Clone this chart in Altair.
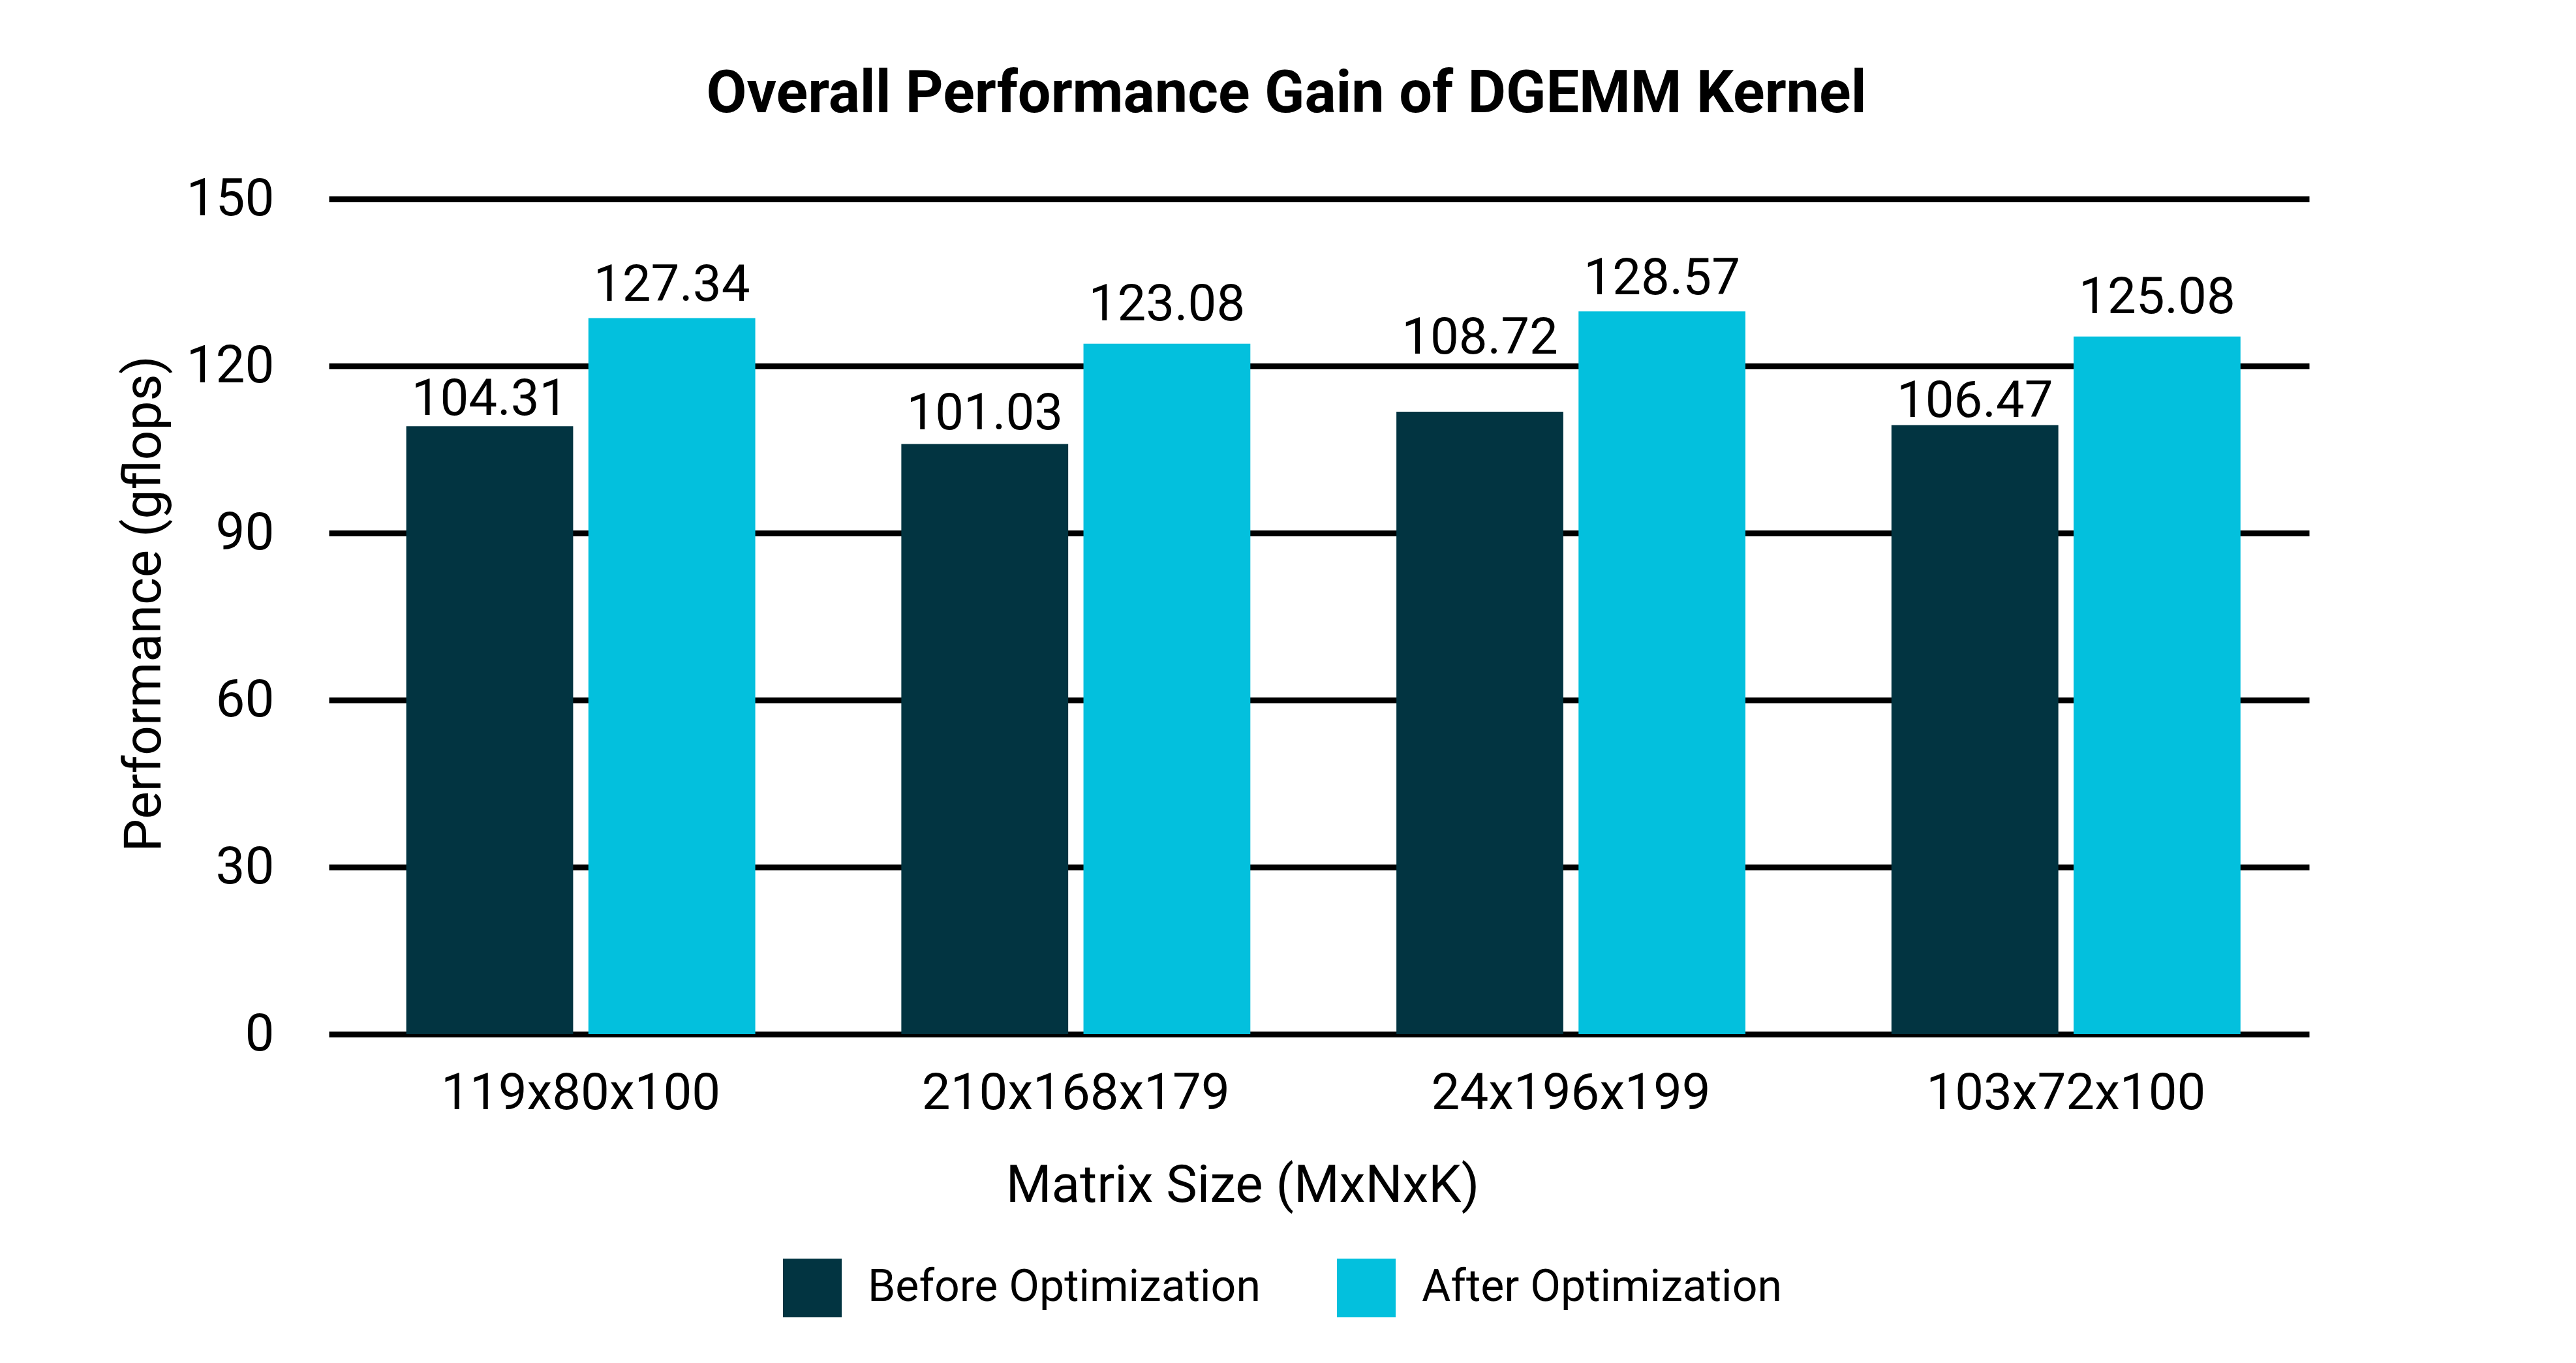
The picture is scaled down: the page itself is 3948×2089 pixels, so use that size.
import altair as alt
import pandas as pd

groups = ["119x80x100", "210x168x179", "24x196x199", "103x72x100"]
series = ["Before Optimization", "After Optimization"]
before_vals = [109.2, 106.0, 111.8, 109.4]
after_vals = [128.6, 124.0, 129.8, 125.3]
before_labels = ["104.31", "101.03", "108.72", "106.47"]
after_labels = ["127.34", "123.08", "128.57", "125.08"]
before_label_pos = [111.25, 108.67, 122.2, 110.83]
after_label_pos = [131.76, 128.24, 132.93, 129.5]
y_ticks = [0, 30, 60, 90, 120, 150]
colors = ["#023441", "#03C0DD"]

rows = []
for i, g in enumerate(groups):
    rows.append({"group": g, "series": series[0], "value": before_vals[i],
                 "label": before_labels[i], "lpos": before_label_pos[i]})
    rows.append({"group": g, "series": series[1], "value": after_vals[i],
                 "label": after_labels[i], "lpos": after_label_pos[i]})
df = pd.DataFrame(rows)

FONT = "Roboto"

x_enc = alt.X("group:N", sort=groups,
              scale=alt.Scale(paddingInner=0.295, paddingOuter=0.1475, align=0.53),
              axis=alt.Axis(title="Matrix Size (MxNxK)", labelAngle=0,
                            domain=False, ticks=False, grid=False,
                            labelFontSize=78, labelFont=FONT, labelColor="black",
                            labelBaseline="alphabetic", labelPadding=114,
                            labelLimit=2000,
                            titleFont=FONT, titleFontSize=80, titleFontWeight="normal",
                            titleColor="black", titleBaseline="alphabetic",
                            titleX=1400, titleY=256, titleAlign="center",
                            titleAnchor="start"))
xoff_enc = alt.XOffset("series:N", sort=series,
                       scale=alt.Scale(paddingInner=0.0838, paddingOuter=0))

bars = alt.Chart(df).mark_bar().encode(
    x=x_enc,
    xOffset=xoff_enc,
    y=alt.Y("value:Q",
            scale=alt.Scale(domain=[0, 150], nice=False, zero=True),
            axis=alt.Axis(title="Performance (gflops)", values=y_ticks,
                          domain=False, ticks=False, grid=True,
                          gridColor="black", gridWidth=9, gridOpacity=1,
                          labelFontSize=80, labelFont=FONT, labelColor="black",
                          labelPadding=84,
                          titleFont=FONT, titleFontSize=80, titleFontWeight="normal",
                          titleColor="black", titleBaseline="alphabetic",
                          titleAngle=270, titleX=-259, titleY=620,
                          titleAlign="center", titleAnchor="start")),
    color=alt.Color("series:N", sort=series,
                    scale=alt.Scale(domain=series, range=colors),
                    legend=alt.Legend(title=None, orient="none", direction="horizontal",
                                      legendX=696, legendY=1624, padding=0,
                                      symbolType="square", symbolSize=8100,
                                      symbolStrokeWidth=0, symbolOpacity=1,
                                      labelFont=FONT, labelFontSize=68,
                                      labelColor="black", labelOffset=40,
                                      columnPadding=117, labelLimit=1000)),
)

labels = alt.Chart(df).mark_text(baseline="alphabetic", align="center",
                                 fontSize=78, font=FONT, color="black").encode(
    x=alt.X("group:N", sort=groups),
    xOffset=alt.XOffset("series:N", sort=series),
    y=alt.Y("lpos:Q"),
    text="label:N",
)

chart = alt.layer(bars, labels).properties(
    width=3035, height=1280,
    background="white",
    autosize=alt.AutoSizeParams(type="none"),
    padding={"left": 496, "top": 297, "right": 401, "bottom": 496},
    title=alt.TitleParams("Overall Performance Gain of DGEMM Kernel",
                          font=FONT, fontSize=90, fontWeight="bold",
                          color="black", anchor="middle", frame="group",
                          baseline="alphabetic", offset=3, dx=-50),
).configure_view(strokeWidth=0, stroke="transparent").configure_axis(domain=False)

chart.save("out.html", embed_options={"renderer": "svg", "actions": False})
